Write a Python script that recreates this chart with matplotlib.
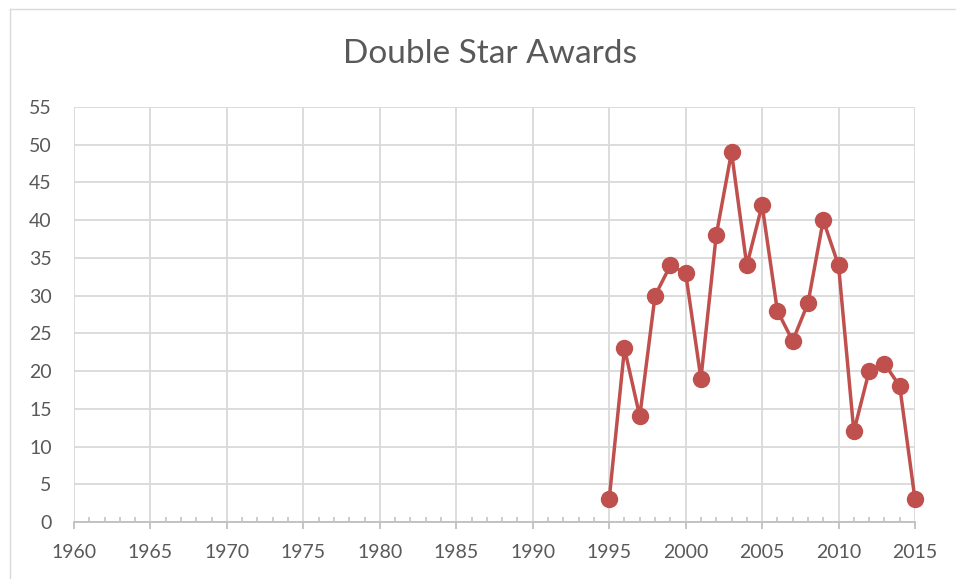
import matplotlib
matplotlib.use("Agg")
import matplotlib.pyplot as plt
from matplotlib.lines import Line2D
from matplotlib.ticker import MultipleLocator

years = [1995, 1996, 1997, 1998, 1999, 2000, 2001, 2002, 2003, 2004, 2005,
         2006, 2007, 2008, 2009, 2010, 2011, 2012, 2013, 2014, 2015]
awards = [3, 23, 14, 30, 34, 33, 19, 38, 49, 34, 42,
          28, 24, 29, 40, 34, 12, 20, 21, 18, 3]
title = "Double Star Awards"

plt.rcParams['font.family'] = ['Lato', 'DejaVu Sans']

W, H = 956, 579
fig = plt.figure(figsize=(W / 100, H / 100), dpi=100)
fig.patch.set_facecolor('white')

# chart-area border
fig.add_artist(Line2D([10 / W, 1.0], [1 - 9 / H, 1 - 9 / H], transform=fig.transFigure,
                      color='#d9d9d9', lw=1))
fig.add_artist(Line2D([10 / W, 10 / W], [0, 1 - 9 / H], transform=fig.transFigure,
                      color='#d9d9d9', lw=1))

ax = fig.add_axes([74 / W, 1 - 522 / H, (915 - 74) / W, (522 - 107) / H])
ax.plot(years, awards, color='#c0504d', lw=2.5, marker='o', markersize=11.5,
        zorder=3, clip_on=False)

ax.set_xlim(1960, 2015)
ax.set_ylim(0, 55)
ax.xaxis.set_major_locator(MultipleLocator(5))
ax.xaxis.set_minor_locator(MultipleLocator(1))
ax.yaxis.set_major_locator(MultipleLocator(5))

ax.grid(True, which='major', color='#d9d9d9', lw=1.3)
ax.set_axisbelow(True)
for s in ['top', 'right', 'left']:
    ax.spines[s].set_visible(False)
ax.spines['bottom'].set_color('#bfbfbf')
ax.spines['bottom'].set_linewidth(1.3)

ax.tick_params(axis='x', which='major', direction='out', length=5, color='#bfbfbf',
               width=1.3, labelsize=14, labelcolor='#595959', pad=11)
ax.tick_params(axis='x', which='minor', direction='in', length=3.5, color='#bfbfbf',
               width=1.1)
ax.tick_params(axis='y', which='major', length=0, labelsize=14, labelcolor='#595959',
               pad=16)

fig.text(490 / W, 1 - 54 / H, title, ha='center', va='center', fontsize=24,
         color='#595959')

fig.savefig('out.png', dpi=100)
